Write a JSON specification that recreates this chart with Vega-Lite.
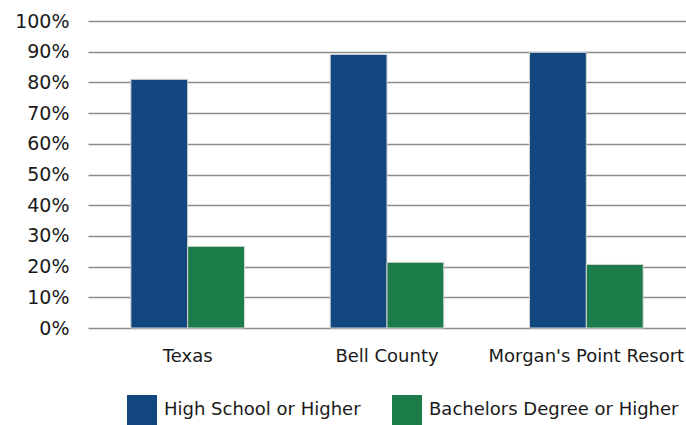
{
  "$schema": "https://vega.github.io/schema/vega-lite/v6.json",
  "width": 598,
  "height": 307,
  "autosize": {"type": "none"},
  "padding": {"left": 88, "top": 21, "right": 0, "bottom": 97},
  "background": "white",
  "config": {
    "view": {"stroke": null},
    "font": "DejaVu Sans"
  },
  "data": {
    "values": [
      {"area": "Texas", "level": "High School or Higher", "pct": 81.0},
      {"area": "Texas", "level": "Bachelors Degree or Higher", "pct": 26.6},
      {"area": "Bell County", "level": "High School or Higher", "pct": 89.1},
      {"area": "Bell County", "level": "Bachelors Degree or Higher", "pct": 21.4},
      {"area": "Morgan's Point Resort", "level": "High School or Higher", "pct": 89.8},
      {"area": "Morgan's Point Resort", "level": "Bachelors Degree or Higher", "pct": 20.7}
    ]
  },
  "mark": {"type": "bar", "stroke": "#d4d4d4", "strokeWidth": 1},
  "encoding": {
    "x": {
      "field": "area",
      "type": "nominal",
      "sort": null,
      "scale": {"paddingInner": 0.43, "paddingOuter": 0.215},
      "axis": {
        "title": null,
        "labelAngle": 0,
        "domain": false,
        "ticks": false,
        "labelPadding": 19,
        "labelFontSize": 18,
        "labelColor": "#1a1a1a",
        "labelLimit": 300
      }
    },
    "xOffset": {
      "field": "level",
      "type": "nominal",
      "sort": ["High School or Higher", "Bachelors Degree or Higher"]
    },
    "y": {
      "field": "pct",
      "type": "quantitative",
      "scale": {"domain": [0, 100], "nice": false},
      "axis": {
        "title": null,
        "values": [0, 10, 20, 30, 40, 50, 60, 70, 80, 90, 100],
        "labelExpr": "datum.value + '%'",
        "domain": false,
        "ticks": false,
        "labelPadding": 19,
        "labelFontSize": 19,
        "labelColor": "#1a1a1a",
        "gridColor": "#8c8c8c",
        "gridWidth": 1.5
      }
    },
    "color": {
      "field": "level",
      "type": "nominal",
      "sort": ["High School or Higher", "Bachelors Degree or Higher"],
      "scale": {
        "domain": ["High School or Higher", "Bachelors Degree or Higher"],
        "range": ["#11477e", "#1d7d4a"]
      },
      "legend": {
        "title": null,
        "orient": "none",
        "direction": "horizontal",
        "legendX": 39,
        "legendY": 374,
        "symbolType": "square",
        "symbolSize": 900,
        "symbolStrokeWidth": 0,
        "labelFontSize": 18,
        "labelColor": "#1a1a1a",
        "labelOffset": 7,
        "labelLimit": 400,
        "columnPadding": 31
      }
    }
  }
}
